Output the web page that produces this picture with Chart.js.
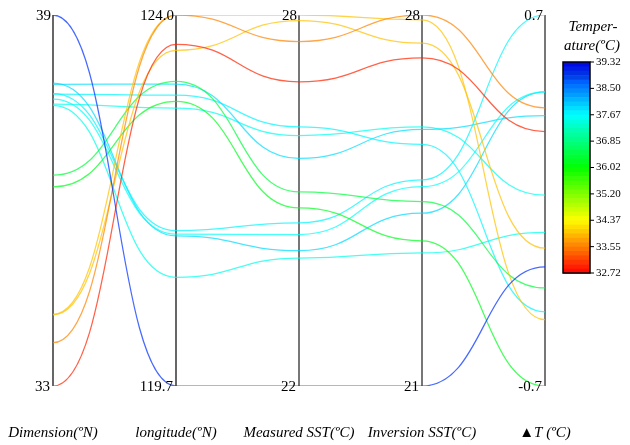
<!DOCTYPE html>
<html>
<head>
<meta charset="utf-8">
<script src="https://cdn.jsdelivr.net/npm/chart.js@4.4.0/dist/chart.umd.min.js"></script>
<style>
  body { margin: 0; background: #fff; }
  #wrap { width: 630px; height: 445px; position: relative; }
</style>
</head>
<body>
<div id="wrap"><canvas id="pc"></canvas></div>
<script>
// axes of the parallel coordinates plot
const axisTitles = ['Dimension(ºN)', 'longitude(ºN)', 'Measured SST(ºC)', 'Inversion SST(ºC)', '▲T (ºC)'];
const axisMin = [33, 119.7, 22, 21, -0.7];
const axisMax = [39, 124.0, 28, 28, 0.7];
const topLabels = ['39', '124.0', '28', '28', '0.7'];
const bottomLabels = ['33', '119.7', '22', '21', '-0.7'];

// one value per station on every axis
const latitude  = [39.0, 33.0, 33.70, 34.16, 34.15, 36.41, 36.22, 37.73, 37.64, 37.54, 37.90, 37.88, 37.72, 37.56];
const longitude = [119.7, 123.66, 124.0, 124.0, 123.59, 123.23, 123.0, 121.5, 121.46, 120.96, 121.44, 123.2, 123.07, 122.92];
const measuredSST  = [22.0, 26.92, 27.57, 28.0, 27.91, 25.14, 24.88, 24.64, 24.45, 24.07, 24.19, 25.68, 26.19, 26.05];
const inversionSST = [21.0, 27.19, 28.0, 27.91, 27.47, 24.48, 23.74, 24.89, 24.76, 23.51, 24.26, 25.84, 25.56, 25.89];
const deltaT = [-0.25, 0.26, 0.35, -0.45, -0.18, -0.33, -0.7, 0.7, 0.41, -0.12, 0.41, 0.32, -0.42, 0.02];

// colour bar
const colorMin = 32.72;
const colorMax = 39.32;
const colorTicks = ['39.32', '38.50', '37.67', '36.85', '36.02', '35.20', '34.37', '33.55', '32.72'];

function hueFor(v) {
  const t = Math.min(1, Math.max(0, (v - colorMin) / (colorMax - colorMin)));
  return 240 * t;
}

// warm end of the lines reads a bit more golden than pure hue
function lineColor(lat) {
  let h = hueFor(lat);
  if (h < 60) h *= 0.87;
  return `hsla(${h}, 100%, 50%, 0.72)`;
}

const columns = [latitude, longitude, measuredSST, inversionSST, deltaT];

const datasets = latitude.map((lat, i) => ({
  data: columns.map((col, a) => (col[i] - axisMin[a]) / (axisMax[a] - axisMin[a])),
  borderColor: lineColor(lat),
  borderWidth: 1.25,
  pointRadius: 0,
  tension: 0.4,
  fill: false
}));

// curves leave and enter every axis horizontally
const flatCurves = {
  id: 'flatCurves',
  beforeDatasetsDraw(chart) {
    chart.data.datasets.forEach((ds, i) => {
      const meta = chart.getDatasetMeta(i);
      meta.dataset.updateControlPoints(chart.chartArea);
      const pts = meta.data;
      pts.forEach((p, j) => {
        const prev = pts[j - 1], next = pts[j + 1];
        p.cp1x = prev ? p.x - (p.x - prev.x) / 2 : p.x;
        p.cp1y = p.y;
        p.cp2x = next ? p.x + (next.x - p.x) / 2 : p.x;
        p.cp2y = p.y;
      });
    });
  }
};

const axesDecor = {
  id: 'axesDecor',
  beforeDatasetsDraw(chart) {
    const ctx = chart.ctx;
    const xs = chart.scales.x, ys = chart.scales.y;
    const top = ys.getPixelForValue(1), bottom = ys.getPixelForValue(0);
    ctx.save();
    axisTitles.forEach((t, i) => {
      const x = xs.getPixelForValue(i);
      ctx.beginPath();
      ctx.strokeStyle = i < 2 ? '#000' : '#555';
      ctx.lineWidth = i < 2 ? 1.2 : 1.6;
      ctx.moveTo(x, top);
      ctx.lineTo(x, bottom);
      ctx.stroke();
    });
    ctx.restore();
  },
  afterDatasetsDraw(chart) {
    const ctx = chart.ctx;
    const xs = chart.scales.x, ys = chart.scales.y;
    const top = ys.getPixelForValue(1), bottom = ys.getPixelForValue(0);
    ctx.save();
    ctx.fillStyle = '#000';
    ctx.font = '15px "Liberation Serif", "Times New Roman", serif';
    ctx.textAlign = 'right';
    ctx.textBaseline = 'middle';
    axisTitles.forEach((t, i) => {
      const x = xs.getPixelForValue(i);
      ctx.fillText(topLabels[i], x - 2, top + 1);
      ctx.fillText(bottomLabels[i], x - 3, bottom + 1);
    });
    ctx.font = 'italic 15px "Liberation Serif", "Times New Roman", serif';
    ctx.textAlign = 'center';
    axisTitles.forEach((t, i) => {
      ctx.fillText(t, xs.getPixelForValue(i), 433);
    });

    // colour bar
    const bx = 563, by = 62, bw = 27, bh = 211;
    const bands = 48;
    for (let k = 0; k < bands; k++) {
      const v = colorMax - (k + 0.5) * (colorMax - colorMin) / bands;
      ctx.fillStyle = `hsl(${hueFor(v)}, 100%, ${hueFor(v) > 220 ? 45 : 50}%)`;
      ctx.fillRect(bx, by + k * bh / bands, bw, bh / bands + 0.6);
    }
    ctx.strokeStyle = '#000';
    ctx.lineWidth = 1.5;
    ctx.strokeRect(bx, by, bw, bh);
    ctx.font = '11px "Liberation Serif", "Times New Roman", serif';
    ctx.textAlign = 'left';
    ctx.fillStyle = '#000';
    ctx.lineWidth = 1;
    colorTicks.forEach((t, k) => {
      const y = by + k * bh / (colorTicks.length - 1);
      ctx.beginPath();
      ctx.moveTo(bx + bw, y);
      ctx.lineTo(bx + bw + 4, y);
      ctx.stroke();
      ctx.fillText(t, bx + bw + 6, y);
    });
    ctx.font = 'italic 15px "Liberation Serif", "Times New Roman", serif';
    ctx.textAlign = 'center';
    ctx.fillText('Temper-', 593, 27);
    ctx.fillText('ature(ºC)', 592, 46);
    ctx.restore();
  }
};

new Chart(document.getElementById('pc'), {
  type: 'line',
  data: { labels: axisTitles, datasets },
  options: {
    responsive: true,
    maintainAspectRatio: false,
    animation: false,
    layout: { padding: { left: 53, right: 85, top: 15, bottom: 59 } },
    scales: {
      x: { display: false, offset: false },
      y: { display: false, min: 0, max: 1 }
    },
    plugins: {
      legend: { display: false },
      tooltip: { enabled: false }
    }
  },
  plugins: [flatCurves, axesDecor]
});
</script>
</body>
</html>
